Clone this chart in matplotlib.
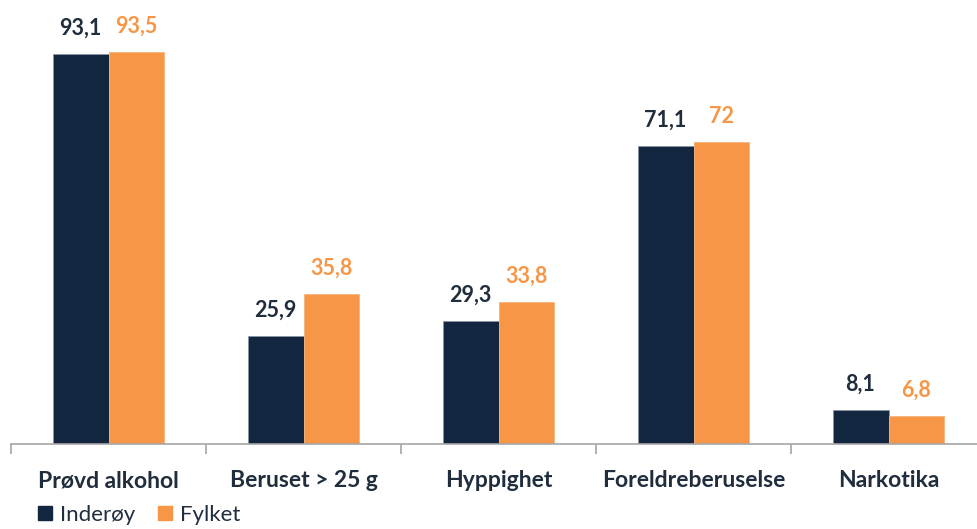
import numpy as np
import matplotlib.pyplot as plt
from matplotlib.lines import Line2D

categories = ["Prøvd alkohol", "Beruset > 25 g", "Hyppighet", "Foreldreberuselse", "Narkotika"]
inderoy = [93.1, 25.9, 29.3, 71.1, 8.1]
fylket = [93.5, 35.8, 33.8, 72, 6.8]
inderoy_labels = ["93,1", "25,9", "29,3", "71,1", "8,1"]
fylket_labels = ["93,5", "35,8", "33,8", "72", "6,8"]

navy = "#13263F"
orange = "#F79646"
text_col = "#1F2D3D"
plt.rcParams['font.family'] = ['Lato', 'DejaVu Sans']


def main():
    fig = plt.figure(figsize=(9.77, 5.29), dpi=100)
    ax = fig.add_axes([11 / 977, 85 / 529, 975 / 977, 444 / 529])

    x = np.arange(len(categories))
    w = 0.287
    b1 = ax.bar(x - w / 2, inderoy, w, color=navy, edgecolor="#8A96A6", linewidth=0.6)
    b2 = ax.bar(x + w / 2, fylket, w, color=orange, edgecolor="#F7B27A", linewidth=0.6)

    for rect, lab in zip(b1, inderoy_labels):
        ax.annotate(lab, (rect.get_x() + rect.get_width() / 2, rect.get_height()),
                    xytext=(0, 11), textcoords="offset points", ha="center", va="bottom",
                    fontsize=15.5, fontweight="bold", color=text_col)
    for rect, lab in zip(b2, fylket_labels):
        ax.annotate(lab, (rect.get_x() + rect.get_width() / 2, rect.get_height()),
                    xytext=(0, 11), textcoords="offset points", ha="center", va="bottom",
                    fontsize=15.5, fontweight="bold", color=orange)

    ax.set_xlim(-0.5, len(categories) - 0.5)
    ax.set_ylim(0, 106)
    ax.set_yticks([])
    for s in ["top", "right", "left"]:
        ax.spines[s].set_visible(False)
    ax.spines["bottom"].set_color("#A6A6A6")
    ax.spines["bottom"].set_linewidth(1.2)

    ax.set_xticks(x)
    ax.set_xticklabels(categories, fontsize=16.5, fontweight="bold", color=text_col)
    ax.tick_params(axis="x", which="major", length=0, pad=19)
    ax.set_xticks(np.arange(len(categories) + 1) - 0.5, minor=True)
    ax.tick_params(axis="x", which="minor", length=7, width=1.2, color="#A6A6A6")

    handles = [
        Line2D([], [], marker="s", linestyle="", color=navy, markersize=10),
        Line2D([], [], marker="s", linestyle="", color=orange, markersize=10),
    ]
    fig.legend(handles, ["Inderøy", "Fylket"], loc="lower left", bbox_to_anchor=(0.018, -0.03),
               ncol=2, frameon=False, fontsize=16, handlelength=0.7, handletextpad=0.3,
               columnspacing=1.0, labelcolor=text_col)

    fig.savefig("out.png", dpi=100)


if __name__ == "__main__":
    main()
